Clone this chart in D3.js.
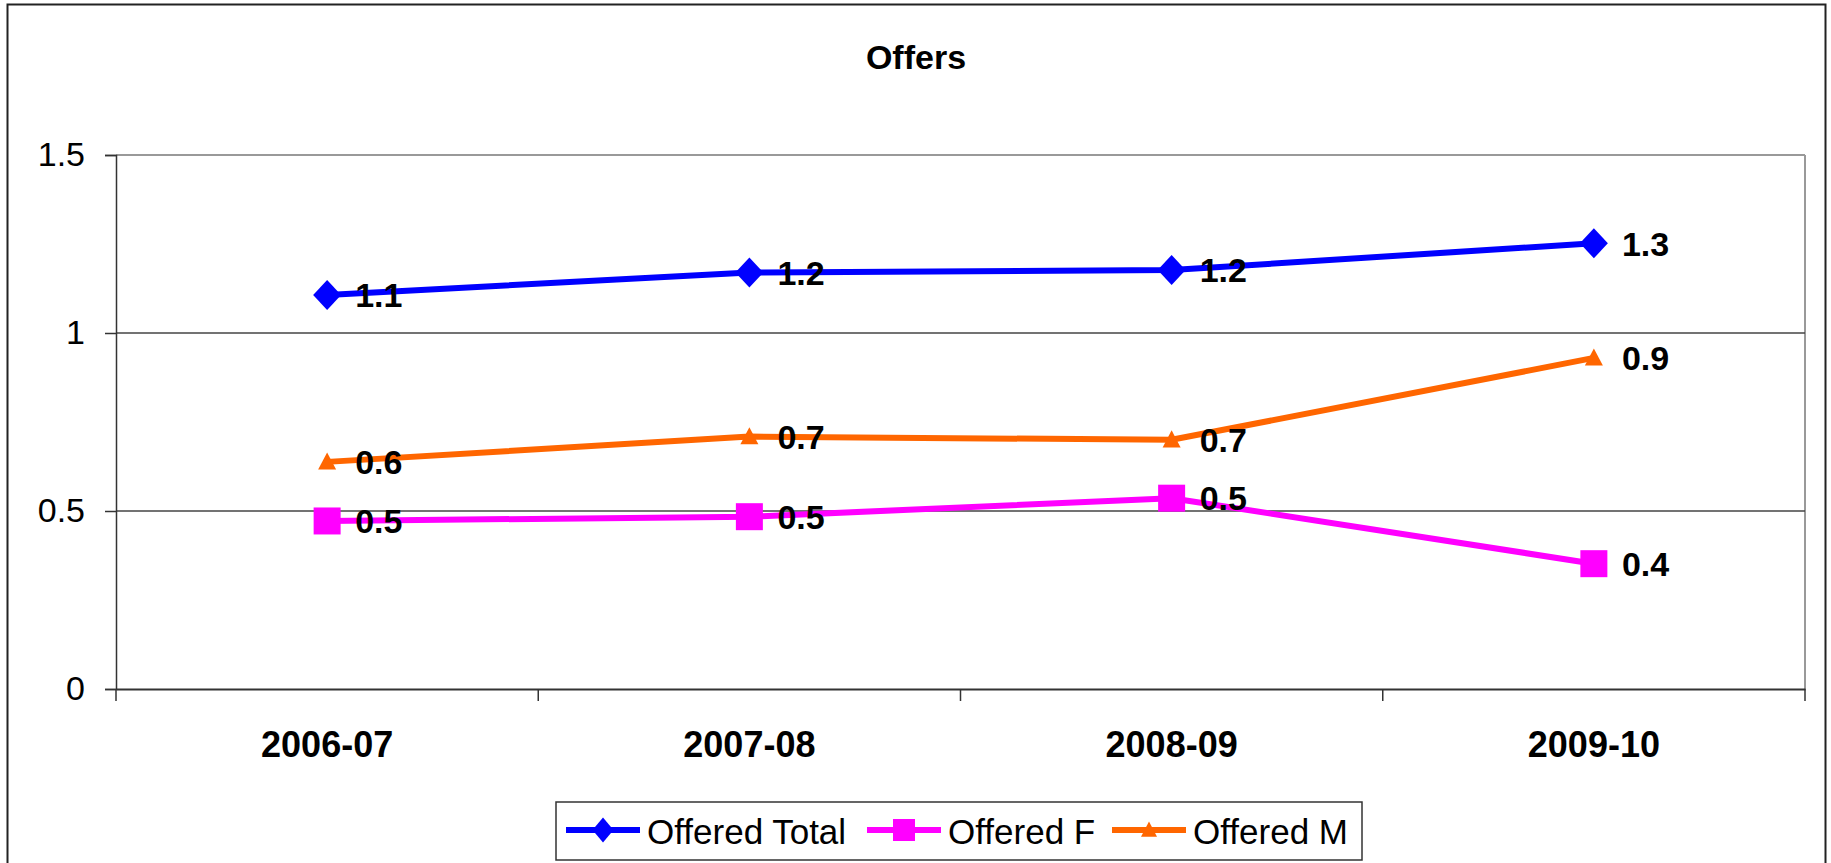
<!DOCTYPE html>
<html>
<head>
<meta charset="utf-8">
<script src="https://cdn.jsdelivr.net/npm/d3@7/dist/d3.min.js"></script>
<style>
  html, body { margin: 0; padding: 0; background: #fff; }
  svg { display: block; font-family: "Liberation Sans", Arial, sans-serif; }
</style>
</head>
<body>
<svg id="chart" width="1831" height="863"></svg>
<script>
// ---- data ----
const categories = ["2006-07", "2007-08", "2008-09", "2009-10"];
const seriesNames = ["Offered Total", "Offered F", "Offered M"];
const offeredTotal = [1.107, 1.170, 1.177, 1.252];
const offeredF = [0.472, 0.484, 0.536, 0.352];
const offeredM = [0.638, 0.709, 0.700, 0.930];
const yTicks = [0, 0.5, 1, 1.5];
const chartTitle = "Offers";

// ---- layout ----
const svg = d3.select("#chart");
const plot = { left: 116, right: 1805, top: 155, bottom: 689 };
const colors = ["#0000FF", "#FF00FF", "#FF6600"];
const shapes = ["diamond", "square", "triangle"];
const seriesData = [offeredTotal, offeredF, offeredM];

const x = d3.scaleBand().domain(categories).range([plot.left, plot.right]).padding(0);
const y = d3.scaleLinear().domain([0, 1.5]).range([plot.bottom, plot.top]);
const cx = c => x(c) + x.bandwidth() / 2;

// outer border
svg.append("rect")
  .attr("x", 7.5).attr("y", 4.5)
  .attr("width", 1818).attr("height", 920)
  .attr("fill", "#fff").attr("stroke", "#222").attr("stroke-width", 2);

// title
svg.append("text")
  .attr("x", 916).attr("y", 69)
  .attr("text-anchor", "middle")
  .attr("font-size", 34).attr("font-weight", "bold")
  .text(chartTitle);

// plot border (top / right gray)
svg.append("line")
  .attr("x1", plot.left).attr("x2", plot.right)
  .attr("y1", y(1.5)).attr("y2", y(1.5))
  .attr("stroke", "#999").attr("stroke-width", 2);
svg.append("line")
  .attr("x1", plot.right).attr("x2", plot.right)
  .attr("y1", plot.top).attr("y2", plot.bottom)
  .attr("stroke", "#999").attr("stroke-width", 2);

// gridlines
svg.append("g").selectAll("line")
  .data(yTicks.filter(t => t > 0 && t < 1.5))
  .join("line")
  .attr("x1", plot.left).attr("x2", plot.right)
  .attr("y1", d => y(d)).attr("y2", d => y(d))
  .attr("stroke", "#444").attr("stroke-width", 1.5);

// y axis
const yAxis = d3.axisLeft(y).tickValues(yTicks).tickSize(11).tickPadding(20)
  .tickFormat(d => String(d));
const gy = svg.append("g").attr("transform", `translate(${plot.left},0)`).call(yAxis);
gy.select(".domain").attr("stroke", "#333").attr("stroke-width", 1.5);
gy.selectAll(".tick line").attr("stroke", "#333").attr("stroke-width", 1.5);
gy.selectAll(".tick text")
  .attr("font-size", 34).attr("fill", "#000")
  .attr("font-family", "'Liberation Sans', Arial, sans-serif");

// x axis
const xAxis = d3.axisBottom(x).tickSize(0).tickPadding(0);
const gx = svg.append("g").attr("transform", `translate(0,${plot.bottom})`).call(xAxis);
gx.select(".domain").attr("stroke", "#333").attr("stroke-width", 2);
gx.selectAll(".tick text")
  .attr("y", 68)
  .attr("dy", 0)
  .attr("font-size", 36).attr("font-weight", "bold").attr("fill", "#000")
  .attr("font-family", "'Liberation Sans', Arial, sans-serif");
// boundary ticks between categories
const bounds = categories.map(c => x(c)).concat([x(categories[categories.length - 1]) + x.bandwidth()]);
svg.append("g").selectAll("line").data(bounds).join("line")
  .attr("x1", d => d).attr("x2", d => d)
  .attr("y1", plot.bottom).attr("y2", plot.bottom + 12)
  .attr("stroke", "#333").attr("stroke-width", 1.5);

// marker path generator
function markerPath(shape, sx, sy) {
  sy = sy || sx;
  if (shape === "diamond") return `M0,${-sy}L${sx},0L0,${sy}L${-sx},0Z`;
  if (shape === "square") return `M${-sx},${-sy}H${sx}V${sy}H${-sx}Z`;
  return `M0,${-sy * 1.05}L${sx},${sy * 0.85}L${-sx},${sy * 0.85}Z`;
}
const markerSize = [[14, 15], [13.5, 13.5], [9, 9]];

const line = d3.line().x((d, i) => cx(categories[i])).y(d => y(d));

seriesData.forEach((vals, si) => {
  const g = svg.append("g");
  g.append("path")
    .attr("d", line(vals))
    .attr("fill", "none")
    .attr("stroke", colors[si]).attr("stroke-width", 6)
    .attr("stroke-linejoin", "round");
  g.selectAll("path.m").data(vals).join("path")
    .attr("class", "m")
    .attr("transform", (d, i) => `translate(${cx(categories[i])},${y(d)})`)
    .attr("d", markerPath(shapes[si], markerSize[si][0], markerSize[si][1]))
    .attr("fill", colors[si]);
});

// data labels
seriesData.forEach((vals, si) => {
  svg.append("g").selectAll("text").data(vals).join("text")
    .attr("x", (d, i) => cx(categories[i]) + 28)
    .attr("y", d => y(d))
    .attr("dy", "0.36em")
    .attr("font-size", 34).attr("font-weight", "bold").attr("fill", "#000")
    .text(d => d3.format(".1f")(d));
});

// legend
const legend = svg.append("g");
legend.append("rect")
  .attr("x", 556).attr("y", 802)
  .attr("width", 806).attr("height", 58)
  .attr("fill", "#fff").attr("stroke", "#333").attr("stroke-width", 1.5);
const legendX = [566, 867, 1112];
const legendMarker = [[10.5, 12.5], [11, 11], [8, 8]];
seriesNames.forEach((name, si) => {
  const lx = legendX[si], ly = 830;
  legend.append("line")
    .attr("x1", lx).attr("x2", lx + 74)
    .attr("y1", ly).attr("y2", ly)
    .attr("stroke", colors[si]).attr("stroke-width", 6);
  legend.append("path")
    .attr("transform", `translate(${lx + 37},${ly})`)
    .attr("d", markerPath(shapes[si], legendMarker[si][0], legendMarker[si][1]))
    .attr("fill", colors[si]);
  legend.append("text")
    .attr("x", lx + 81).attr("y", 844)
    .attr("font-size", 35).attr("fill", "#000")
    .text(name);
});
</script>
</body>
</html>
